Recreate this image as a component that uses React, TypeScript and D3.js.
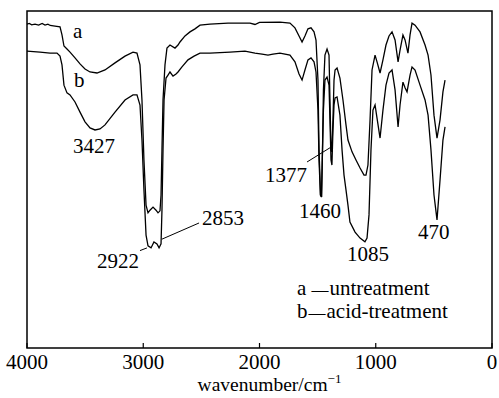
import React from "react";
import * as d3 from "d3";

// wavenumber (cm^-1), transmittance (%)
const untreatment: [number, number][] = [
  [4000, 96.1], [3980, 96.3], [3960, 95.9], [3931, 96.1], [3900, 95.8], [3870, 96.3], [3845, 95.8],
  [3820, 96.1], [3800, 95.7], [3759, 95.5], [3716, 95.3], [3699, 92.9], [3682, 89.6], [3656, 88.7],
  [3630, 87.8], [3587, 86.1], [3544, 84.3], [3501, 82.8], [3458, 81.9], [3398, 81.6], [3329, 82.5],
  [3243, 84.6], [3157, 86.6], [3088, 87.8], [3054, 87.5], [3028, 84.0], [3011, 73.6], [2994, 55.8],
  [2976, 42.4], [2959, 40.1], [2942, 40.9], [2916, 41.8], [2890, 40.9], [2873, 40.1], [2856, 40.7],
  [2847, 45.4], [2839, 58.8], [2830, 73.6], [2813, 84.0], [2796, 89.0], [2770, 89.9], [2727, 89.0],
  [2701, 89.9], [2684, 90.8], [2641, 92.6], [2598, 93.8], [2555, 94.7], [2512, 95.8], [2426, 96.1],
  [2271, 96.4], [2082, 96.4], [2039, 96.0], [2000, 96.6], [1824, 96.7], [1738, 96.4], [1695, 95.0],
  [1660, 92.6], [1634, 90.8], [1609, 92.6], [1583, 94.7], [1557, 95.0], [1531, 93.8], [1514, 91.4],
  [1497, 79.5], [1488, 58.8], [1475, 45.4], [1466, 44.8], [1458, 58.8], [1450, 76.6], [1437, 86.9],
  [1419, 88.7], [1402, 86.9], [1394, 73.6], [1385, 58.8], [1378, 58.2], [1368, 67.7], [1359, 79.5],
  [1350, 82.5], [1333, 83.1], [1308, 80.1], [1282, 73.6], [1256, 66.2], [1239, 61.7], [1204, 58.2],
  [1170, 55.8], [1135, 53.4], [1101, 51.3], [1084, 51.3], [1067, 54.3], [1049, 67.7], [1032, 82.5],
  [1006, 86.9], [989, 84.9], [963, 81.6], [938, 85.5], [912, 89.9], [886, 92.6], [860, 93.8],
  [834, 91.4], [808, 84.9], [791, 88.4], [766, 92.9], [748, 91.4], [723, 87.5], [705, 92.9],
  [688, 96.4], [662, 95.8], [619, 93.8], [576, 89.9], [550, 86.9], [525, 81.0], [499, 69.1],
  [473, 62.3], [447, 67.7], [422, 76.0], [404, 79.5],
];

const acidTreatment: [number, number][] = [
  [4000, 88.1], [3888, 87.8], [3802, 87.5], [3742, 87.5], [3716, 86.6], [3699, 84.0], [3682, 78.0],
  [3656, 75.7], [3630, 75.1], [3587, 73.0], [3544, 70.0], [3501, 67.1], [3458, 65.3], [3415, 64.7],
  [3372, 65.0], [3329, 66.2], [3243, 70.0], [3157, 73.6], [3088, 75.1], [3054, 75.1], [3028, 72.1],
  [3011, 61.7], [2994, 46.9], [2976, 33.5], [2959, 30.3], [2933, 29.7], [2908, 31.5], [2882, 30.9],
  [2864, 29.7], [2847, 30.9], [2839, 40.9], [2830, 58.8], [2821, 73.6], [2804, 80.1], [2787, 81.0],
  [2770, 81.9], [2744, 80.7], [2718, 81.3], [2701, 81.9], [2667, 83.4], [2615, 85.5], [2563, 86.6],
  [2512, 87.5], [2426, 87.5], [2254, 87.8], [2125, 88.1], [2039, 87.5], [1978, 87.2], [1927, 86.9],
  [1884, 87.2], [1824, 87.5], [1738, 86.9], [1695, 84.9], [1660, 81.3], [1634, 79.5], [1609, 82.5],
  [1583, 85.5], [1557, 86.1], [1531, 84.9], [1514, 81.9], [1497, 70.6], [1488, 55.8], [1476, 45.4],
  [1467, 44.8], [1460, 55.8], [1450, 70.6], [1437, 79.5], [1419, 80.4], [1402, 78.0], [1394, 67.7],
  [1385, 55.8], [1377, 54.3], [1368, 64.7], [1359, 72.1], [1350, 74.2], [1333, 74.5], [1308, 69.1],
  [1290, 58.8], [1273, 51.3], [1256, 46.9], [1239, 42.4], [1222, 37.4], [1178, 34.4], [1135, 32.6],
  [1093, 31.5], [1075, 32.6], [1058, 39.5], [1041, 58.8], [1024, 70.6], [1006, 72.1], [989, 68.2],
  [963, 62.3], [938, 70.6], [912, 78.0], [886, 81.6], [860, 82.5], [834, 76.6], [808, 65.6],
  [791, 72.1], [766, 78.9], [748, 77.2], [731, 76.0], [705, 81.0], [688, 83.4], [662, 82.5],
  [619, 78.0], [576, 73.6], [550, 69.1], [525, 58.8], [499, 45.4], [473, 38.0], [447, 49.9],
  [422, 61.7], [404, 65.6],
];

const xTicks = [4000, 3000, 2000, 1000, 0];

// peak labels: text, wavenumber, transmittance (start of text, baseline)
const peakLabels: [string, number, number][] = [
  ["a", 3604, 92.0],
  ["b", 3596, 77.4],
  ["3427", 3604, 57.9],
  ["2853", 2495, 36.5],
  ["2922", 3398, 23.7],
  ["1377", 1953, 49.3],
  ["1460", 1660, 38.6],
  ["1085", 1247, 25.8],
  ["470", 637, 32.3],
];

// leader lines: [w1, t1, w2, t2]
const leaders: [number, number, number, number][] = [
  [2839, 32.3, 2520, 37.1],
  [3028, 28.9, 2968, 29.7],
  [1591, 55.2, 1385, 59.6],
];

const legendKeys = ["a", "b"];
const legendLabels = ["untreatment", "acid-treatment"];
const legendGaps = [5, 1];

const W = 499;
const H = 398;
const margin = { left: 27, right: 7, top: 11, bottom: 50 };

export default function App() {
  const x = d3.scaleLinear().domain([4000, 0]).range([margin.left, W - margin.right]);
  const y = d3.scaleLinear().domain([0, 100]).range([H - margin.bottom, margin.top]);
  const line = d3
    .line<[number, number]>()
    .x((d) => x(d[0]))
    .y((d) => y(d[1]))
    .curve(d3.curveLinear);

  const font = "'Liberation Serif', 'Times New Roman', serif";
  const fs = 21;
  const x0 = x(4000);
  const x1 = x(0);
  const yb = y(0);
  const yt = y(100);

  return (
    <svg
      width={W}
      height={H}
      style={{ position: "absolute", left: 0, top: 0, background: "#fff" }}
      fontFamily={font}
    >
      <rect x={0} y={0} width={W} height={H} fill="#fff" />
      <path d={line(untreatment) || ""} fill="none" stroke="#000" strokeWidth={1.3} />
      <path d={line(acidTreatment) || ""} fill="none" stroke="#000" strokeWidth={1.3} />
      <rect x={x0} y={yt} width={x1 - x0} height={yb - yt} fill="none" stroke="#000" strokeWidth={1.5} />
      {xTicks.map((t) => (
        <g key={t}>
          <line x1={x(t)} x2={x(t)} y1={yb} y2={yb - 5} stroke="#000" strokeWidth={1.2} />
          <text x={x(t)} y={yb + 21} textAnchor="middle" fontSize={fs} fill="#000">
            {t}
          </text>
        </g>
      ))}
      <text x={(x0 + x1) / 2 + 10} y={H - 7} textAnchor="middle" fontSize={19.5} fill="#000">
        wavenumber/cm
        <tspan fontSize={13} dy={-8}>
          −1
        </tspan>
      </text>
      {peakLabels.map(([s, w, t]) => (
        <text key={s} x={x(w)} y={y(t)} fontSize={fs} fill="#000">
          {s}
        </text>
      ))}
      {leaders.map(([w1, t1, w2, t2], i) => (
        <line key={i} x1={x(w1)} y1={y(t1)} x2={x(w2)} y2={y(t2)} stroke="#000" strokeWidth={1} />
      ))}
      {legendKeys.map((k, i) => (
        <text key={k} x={x(1677)} y={y(15.7 - i * 6.8)} fontSize={fs} fill="#000">
          {k}
          <tspan dx={legendGaps[i]} fontSize={17}>
            {"\u2014"}
          </tspan>
          <tspan dx={1}>{legendLabels[i]}</tspan>
        </text>
      ))}
    </svg>
  );
}
